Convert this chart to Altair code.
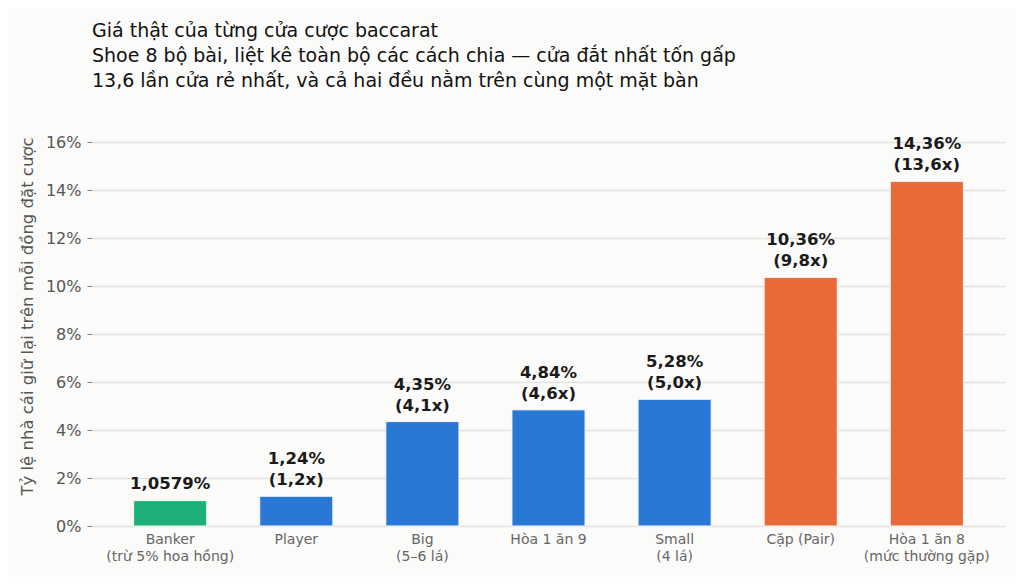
import altair as alt
import pandas as pd

bets = [
    "Banker\n(trừ 5% hoa hồng)",
    "Player",
    "Big\n(5–6 lá)",
    "Hòa 1 ăn 9",
    "Small\n(4 lá)",
    "Cặp (Pair)",
    "Hòa 1 ăn 8\n(mức thường gặp)",
]
house_edge = [1.0579, 1.24, 4.35, 4.84, 5.28, 10.36, 14.36]
pct_text = ["1,0579%", "1,24%", "4,35%", "4,84%", "5,28%", "10,36%", "14,36%"]
ratio_text = ["", "(1,2x)", "(4,1x)", "(4,6x)", "(5,0x)", "(9,8x)", "(13,6x)"]
groups = ["best", "mid", "mid", "mid", "mid", "worst", "worst"]
group_colors = {"best": "#1db07a", "mid": "#2a78d6", "worst": "#ea6a37"}

# the top line sits one line higher when there is a ratio below it
df = pd.DataFrame({
    "bet": bets,
    "edge": house_edge,
    "pct": pct_text,
    "ratio": ratio_text,
    "group": groups,
    "lines": [1 if r == "" else 2 for r in ratio_text],
})

FONT = "DejaVu Sans"
BG = "#fbfbf9"

x = alt.X(
    "bet:N",
    sort=bets,
    title=None,
    scale=alt.Scale(paddingInner=0.42, paddingOuter=0.33),
    axis=alt.Axis(
        labelAngle=0,
        labelExpr="split(datum.label, '\\n')",
        labelColor="#666666",
        labelFontSize=14,
        labelLineHeight=17,
        labelPadding=6,
        ticks=False,
        domain=False,
    ),
)

bars = (
    alt.Chart(df)
    .mark_bar(stroke=BG, strokeWidth=1)
    .encode(
        x=x,
        y=alt.Y(
            "edge:Q",
            title="Tỷ lệ nhà cái giữ lại trên mỗi đồng đặt cược",
            scale=alt.Scale(domain=[0, 16]),
            axis=alt.Axis(
                values=[0, 2, 4, 6, 8, 10, 12, 14, 16],
                labelExpr="datum.value + '%'",
                labelColor="#555555",
                labelFontSize=16,
                labelPadding=6,
                tickSize=5,
                tickColor="#888888",
                domain=False,
                gridColor="#e2e2e2",
                gridWidth=1.5,
                titleColor="#555555",
                titleFontSize=16.5,
                titleFontWeight="normal",
                titlePadding=10,
                titleY=174,
            ),
        ),
        color=alt.Color(
            "group:N",
            scale=alt.Scale(domain=list(group_colors), range=list(group_colors.values())),
            legend=None,
        ),
    )
)

text_style = dict(
    baseline="alphabetic",
    fontSize=16.5,
    fontWeight="bold",
    font=FONT,
    color="#1a1a1a",
)

ratio_labels = (
    alt.Chart(df)
    .transform_filter("datum.lines == 2")
    .mark_text(dy=-11, **text_style)
    .encode(x=alt.X("bet:N", sort=bets), y="edge:Q", text="ratio:N")
)

pct_two = (
    alt.Chart(df)
    .transform_filter("datum.lines == 2")
    .mark_text(dy=-32, **text_style)
    .encode(x=alt.X("bet:N", sort=bets), y="edge:Q", text="pct:N")
)

pct_one = (
    alt.Chart(df)
    .transform_filter("datum.lines == 1")
    .mark_text(dy=-12, **text_style)
    .encode(x=alt.X("bet:N", sort=bets), y="edge:Q", text="pct:N")
)

chart = (
    alt.layer(bars, ratio_labels, pct_two, pct_one)
    .properties(
        width=913,
        height=384,
        autosize=alt.AutoSizeParams(type="none"),
        padding={"left": 84, "top": 134, "right": 11, "bottom": 51},
        background=BG,
        title=alt.TitleParams(
            text=[
                "Giá thật của từng cửa cược baccarat",
                "Shoe 8 bộ bài, liệt kê toàn bộ các cách chia — cửa đắt nhất tốn gấp",
                "13,6 lần cửa rẻ nhất, và cả hai đều nằm trên cùng một mặt bàn",
            ],
            anchor="start",
            frame="group",
            fontSize=19,
            fontWeight="normal",
            color="#111111",
            font=FONT,
            lineHeight=25,
            offset=43,
        ),
    )
    .configure_view(stroke=None)
    .configure_axis(labelFont=FONT, titleFont=FONT)
)

chart.save("out.html", embed_options={"renderer": "svg", "actions": False})
